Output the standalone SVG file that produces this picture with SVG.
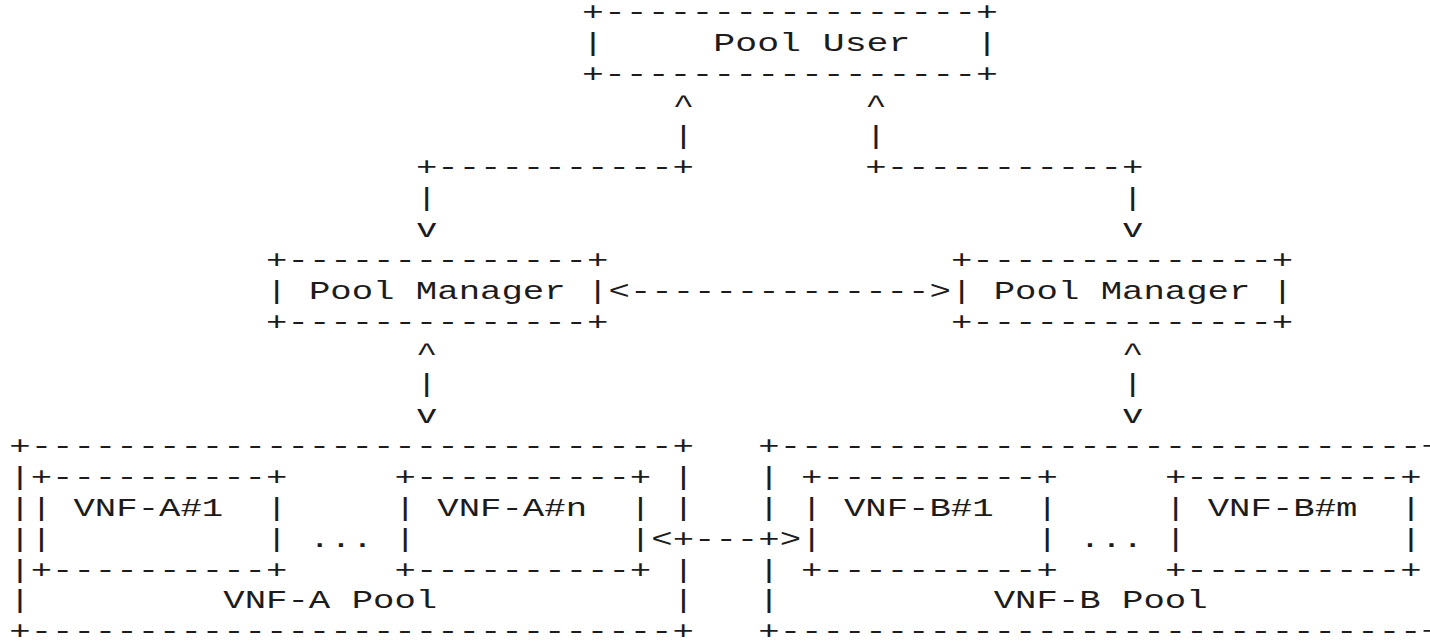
<svg xmlns="http://www.w3.org/2000/svg" width="1430" height="641" viewBox="0 0 1430 641" xml:space="preserve">
  <style>
    text { font-family: "Liberation Mono", "DejaVu Sans Mono", monospace; font-size: 25px; fill: #1c1c1c; white-space: pre; }
  </style>
  <rect width="1430" height="641" fill="#ffffff"/>

  <!-- Pool User box: slightly wider character pitch than the rest -->
  <g id="pool-user" transform="translate(582 0) scale(1.46 1)">
    <text x="0" y="20.45">+-----------------+</text>
    <text x="0" y="51.4">|     Pool User   |</text>
    <text x="0" y="82.35">+-----------------+</text>
  </g>

  <!-- main character grid: 15 units per column, stretched horizontally -->
  <g transform="translate(9.3 0) scale(1.4267 1)">
    <g id="pool-manager-a">
      <text x="180" y="268.05">+--------------+</text>
      <text x="180" y="299">| Pool Manager |</text>
      <text x="180" y="329.95">+--------------+</text>
    </g>
    <g id="pool-manager-b">
      <text x="660" y="268.05">+--------------+</text>
      <text x="660" y="299">| Pool Manager |</text>
      <text x="660" y="329.95">+--------------+</text>
    </g>

    <g id="vnf-a-pool">
      <text x="0" y="453.75">+------------------------------+</text>
      <text x="0" y="484.7">|</text>
      <text x="0" y="515.65">|</text>
      <text x="0" y="546.6">|</text>
      <text x="0" y="577.55">|</text>
      <text x="0" y="608.5">|</text>
      <text x="465" y="484.7">|</text>
      <text x="465" y="515.65">|</text>
      <text x="465" y="577.55">|</text>
      <text x="465" y="608.5">|</text>
      <text x="150" y="608.5">VNF-A Pool</text>
      <text x="0" y="639.45">+------------------------------+</text>
      <g id="vnf-a1">
        <text x="15" y="484.7">+----------+</text>
        <text x="15" y="515.65">| VNF-A#1  |</text>
        <text x="15" y="546.6">|          |</text>
        <text x="15" y="577.55">+----------+</text>
      </g>
      <text x="210" y="546.6">...</text>
      <g id="vnf-an">
        <text x="270" y="484.7">+----------+</text>
        <text x="270" y="515.65">| VNF-A#n  |</text>
        <text x="270" y="546.6">|          |</text>
        <text x="270" y="577.55">+----------+</text>
      </g>
    </g>

    <g id="vnf-b-pool">
      <text x="525" y="453.75">+------------------------------+</text>
      <text x="525" y="484.7">|</text>
      <text x="525" y="515.65">|</text>
      <text x="525" y="577.55">|</text>
      <text x="525" y="608.5">|</text>
      <text x="990" y="484.7">|</text>
      <text x="990" y="515.65">|</text>
      <text x="990" y="546.6">|</text>
      <text x="990" y="577.55">|</text>
      <text x="990" y="608.5">|</text>
      <text x="690" y="608.5">VNF-B Pool</text>
      <text x="525" y="639.45">+------------------------------+</text>
      <g id="vnf-b1">
        <text x="555" y="484.7">+----------+</text>
        <text x="555" y="515.65">| VNF-B#1  |</text>
        <text x="555" y="546.6">|          |</text>
        <text x="555" y="577.55">+----------+</text>
      </g>
      <text x="750" y="546.6">...</text>
      <g id="vnf-bm">
        <text x="810" y="484.7">+----------+</text>
        <text x="810" y="515.65">| VNF-B#m  |</text>
        <text x="810" y="546.6">|          |</text>
        <text x="810" y="577.55">+----------+</text>
      </g>
    </g>

    <g id="connectors">
      <!-- Pool User to both managers -->
      <text x="465" y="113.3">^</text>
      <text x="600" y="113.3">^</text>
      <text x="465" y="144.25">|</text>
      <text x="600" y="144.25">|</text>
      <text x="285" y="175.2">+-----------+</text>
      <text x="600" y="175.2">+-----------+</text>
      <text x="285" y="206.15">|</text>
      <text x="780" y="206.15">|</text>
      <text x="285" y="237.1">v</text>
      <text x="780" y="237.1">v</text>
      <!-- manager to manager -->
      <text x="420" y="299">&lt;--------------&gt;</text>
      <!-- managers to pools -->
      <text x="285" y="360.9">^</text>
      <text x="780" y="360.9">^</text>
      <text x="285" y="391.85">|</text>
      <text x="780" y="391.85">|</text>
      <text x="285" y="422.8">v</text>
      <text x="780" y="422.8">v</text>
      <!-- pool to pool -->
      <text x="450" y="546.6">&lt;+---+&gt;</text>
    </g>
  </g>
</svg>
